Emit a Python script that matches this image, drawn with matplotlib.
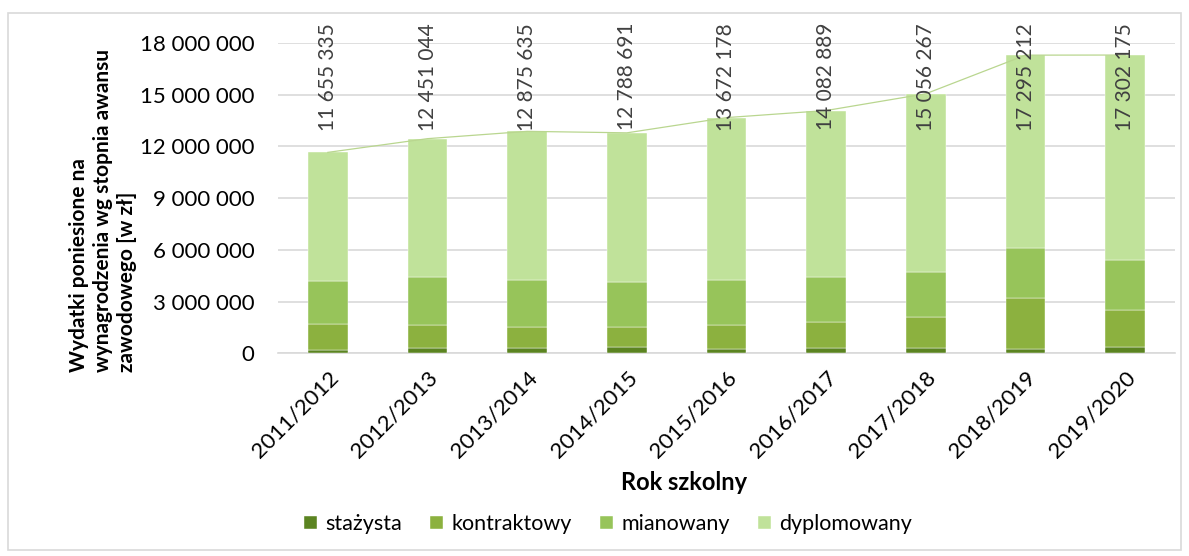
import numpy as np
import matplotlib.pyplot as plt
from matplotlib.patches import Rectangle

plt.rcParams['font.family'] = ['Lato', 'DejaVu Sans']

years = ['2011/2012', '2012/2013', '2013/2014', '2014/2015', '2015/2016',
         '2016/2017', '2017/2018', '2018/2019', '2019/2020']
totals = [11655335, 12451044, 12875635, 12788691, 13672178,
          14082889, 15056267, 17295212, 17302175]
stazysta    = [210000, 330000, 330000, 390000, 270000, 330000, 330000, 270000, 390000]
kontraktowy = [1510000, 1320000, 1180000, 1160000, 1400000, 1490000, 1800000, 2960000, 2130000]
mianowany   = [2480000, 2780000, 2750000, 2600000, 2590000, 2580000, 2560000, 2890000, 2880000]
dyplomowany = [7455335, 8021044, 8615635, 8638691, 9412178, 9682889, 10366267, 11175212, 11902175]

series = [('stażysta', stazysta, '#5b8421'),
          ('kontraktowy', kontraktowy, '#8cb13f'),
          ('mianowany', mianowany, '#97c45a'),
          ('dyplomowany', dyplomowany, '#c0e29a')]

W, H = 1189, 556
fig = plt.figure(figsize=(W / 100, H / 100), dpi=100)
ax = fig.add_axes([278 / W, 1 - 353.3 / H, 897 / W, 310.3 / H])

x = np.arange(len(years))
bottom = np.zeros(len(years))
handles = []
for name, vals, col in series:
    b = ax.bar(x, vals, width=0.4, bottom=bottom, color=col, label=name,
               edgecolor='white', linewidth=0.3, zorder=3)
    handles.append(b)
    bottom += np.array(vals)

ax.plot(x, totals, color='#b9d68f', linewidth=0.9, zorder=4)

# data labels: rotated, all pushed up to the top of the chart area
for xi, t in zip(x, totals):
    ax.text(xi, 1.0645, f'{t:,}'.replace(',', ' '), rotation=90, ha='center',
            va='top', fontsize=15, color='#404040', clip_on=False, zorder=5,
            transform=ax.get_xaxis_transform())

ax.set_xlim(-0.5, len(years) - 0.5)
ax.set_ylim(0, 18e6)
yt = np.arange(0, 18e6 + 1, 3e6)
ax.set_yticks(yt)
ax.set_yticklabels([f'{int(v):,}'.replace(',', ' ') for v in yt], fontsize=16, color='#000000')
ax.set_xticks(x)
ax.set_xticklabels(years, rotation=45, ha='right', rotation_mode='anchor', fontsize=16)
ax.tick_params(axis='x', length=0, pad=10)
ax.tick_params(axis='y', length=0, pad=17)
ax.grid(axis='y', color='#d9d9d9', linewidth=1.2, zorder=0)
for s in ['top', 'right', 'left']:
    ax.spines[s].set_visible(False)
ax.spines['bottom'].set_color('#d9d9d9')
ax.spines['bottom'].set_linewidth(1.2)

fig.text(103 / W, 1 - 372 / H, 'Wydatki poniesione na\nwynagrodzenia wg stopnia awansu\nzawodowego [w zł]',
         rotation=90, ha='center', va='bottom', multialignment='left',
         linespacing=1.28, fontsize=15, fontweight='bold')
fig.text(684 / W, 1 - 482 / H, 'Rok szkolny', ha='center', va='center',
         fontsize=17, fontweight='bold')

fig.legend(handles=handles, loc='center', bbox_to_anchor=(608 / W, 1 - 524 / H),
           ncol=4, frameon=False, fontsize=15.5, handlelength=0.6, handleheight=0.6,
           handletextpad=0.4, columnspacing=1.3)

fig.patches.append(Rectangle((8 / W, 1 - 550 / H), 1173 / W, 537 / H, transform=fig.transFigure,
                             fill=False, edgecolor='#d9d9d9', linewidth=1.2))

fig.savefig('out.png', dpi=100)
